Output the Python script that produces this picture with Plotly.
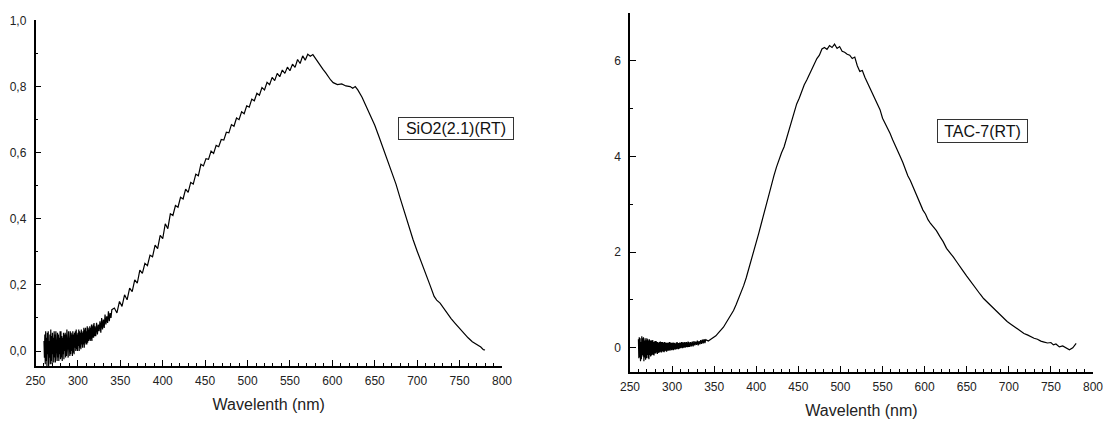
import plotly.graph_objects as go

# ---------------- data: SiO2(2.1)(RT) ----------------
sio2_wl_dense = [260 + 0.5 * i for i in range(121)]          # 260.0 .. 320.0
sio2_int_dense = [
    0.03, -0.02, 0.05, -0.04, 0.06, -0.03, 0.04, -0.045, 0.055, -0.01,
    0.06, -0.045, 0.03, -0.02, 0.05, -0.04, 0.065, -0.03, 0.045, -0.04,
    0.055, -0.01, 0.04, -0.035, 0.06, -0.02, 0.05, -0.035, 0.06, 0.0,
    0.045, -0.03, 0.055, -0.02, 0.05, -0.03, 0.04, -0.01, 0.06, -0.025,
    0.06, -0.02, 0.045, -0.03, 0.04, -0.01, 0.055, -0.025, 0.05, 0.0,
    0.055, -0.02, 0.05, -0.015, 0.065, 0.0, 0.04, -0.02, 0.06, 0.005,
    0.045, -0.015, 0.06, -0.01, 0.055, 0.0, 0.05, -0.015, 0.06, -0.005,
    0.05, -0.01, 0.055, 0.01, 0.06, 0.0, 0.065, 0.005, 0.05, 0.0,
    0.055, 0.015, 0.065, 0.0, 0.06, 0.01, 0.055, 0.005, 0.065, 0.02,
    0.055, 0.01, 0.06, 0.02, 0.07, 0.01, 0.065, 0.025, 0.07, 0.02,
    0.06, 0.02, 0.075, 0.025, 0.07, 0.03, 0.065, 0.035, 0.075, 0.03,
    0.07, 0.035, 0.08, 0.03, 0.075, 0.04, 0.08, 0.04, 0.085, 0.045,
    0.075,
]
sio2_wl_noisy = list(range(321, 341))
sio2_int_noisy = [
    0.045, 0.085, 0.05, 0.08, 0.06, 0.09, 0.055, 0.1, 0.065, 0.095,
    0.07, 0.11, 0.08, 0.105, 0.085, 0.12, 0.09, 0.115, 0.1, 0.125,
]
sio2_wl_mid = list(range(343, 599, 3))
sio2_int_mid = [
    0.13, 0.115, 0.15, 0.135, 0.17, 0.155, 0.19, 0.18, 0.215, 0.205,
    0.245, 0.235, 0.265, 0.258, 0.29, 0.285, 0.32, 0.31, 0.35, 0.34,
    0.385, 0.37, 0.415, 0.41, 0.44, 0.435, 0.465, 0.46, 0.49, 0.48,
    0.51, 0.505, 0.535, 0.53, 0.565, 0.56, 0.582, 0.58, 0.605, 0.598,
    0.622, 0.618, 0.64, 0.638, 0.662, 0.66, 0.685, 0.68, 0.705, 0.70,
    0.724, 0.718, 0.742, 0.738, 0.762, 0.757, 0.78, 0.774, 0.797, 0.79,
    0.813, 0.806, 0.828, 0.818, 0.84, 0.83, 0.85, 0.84, 0.859, 0.848,
    0.868, 0.858, 0.882, 0.87, 0.893, 0.88, 0.898, 0.892, 0.897, 0.885,
    0.872, 0.86, 0.852, 0.842, 0.83, 0.82,
]
sio2_wl_tail = [601, 606, 611, 616, 621, 624, 627, 630, 635, 640, 645, 650,
                655, 660, 665, 670, 675, 680, 685, 690, 695, 700, 705, 710,
                715, 720, 723, 727, 731, 735, 740, 745, 750, 755, 760, 765,
                770, 775, 778, 780]
sio2_int_tail = [0.812, 0.806, 0.808, 0.802, 0.80, 0.795, 0.80, 0.79, 0.768,
                 0.74, 0.714, 0.683, 0.648, 0.613, 0.578, 0.541, 0.505, 0.462,
                 0.418, 0.375, 0.338, 0.302, 0.27, 0.235, 0.20, 0.165, 0.154,
                 0.145, 0.13, 0.115, 0.098, 0.083, 0.068, 0.055, 0.04, 0.028,
                 0.02, 0.012, 0.004, 0.003]

# ---------------- data: TAC-7(RT) ----------------
tac_wl_dense = [260 + 0.5 * i for i in range(121)]           # 260.0 .. 320.0
tac_int_dense = [
    0.18, -0.22, 0.22, -0.2, 0.2, -0.28, 0.12, -0.24, 0.24, -0.15,
    0.2, -0.18, 0.22, -0.28, 0.15, -0.2, 0.2, -0.25, 0.16, -0.22,
    0.2, -0.15, 0.18, -0.22, 0.15, -0.24, 0.18, -0.15, 0.14, -0.18,
    0.16, -0.16, 0.14, -0.14, 0.16, -0.15, 0.12, -0.16, 0.13, -0.12,
    0.14, -0.12, 0.14, -0.1, 0.12, -0.13, 0.12, -0.11, 0.1, -0.1,
    0.12, -0.1, 0.13, -0.08, 0.12, -0.1, 0.12, -0.07, 0.12, -0.08,
    0.1, -0.09, 0.12, -0.07, 0.11, -0.06, 0.1, -0.08, 0.11, -0.06,
    0.1, -0.06, 0.11, -0.05, 0.12, -0.06, 0.11, -0.04, 0.1, -0.05,
    0.11, -0.04, 0.1, -0.05, 0.11, -0.03, 0.1, -0.04, 0.09, -0.03,
    0.11, -0.03, 0.12, -0.02, 0.1, -0.03, 0.1, -0.02, 0.11, -0.01,
    0.1, -0.01, 0.12, 0.0, 0.11, -0.01, 0.12, 0.0, 0.1, 0.01,
    0.12, 0.0, 0.11, 0.01, 0.12, 0.02, 0.11, 0.01, 0.13, 0.02,
    0.12,
]
tac_wl_noisy = list(range(321, 341))
tac_int_noisy = [
    0.02, 0.12, 0.03, 0.13, 0.03, 0.14, 0.05, 0.13, 0.06, 0.15,
    0.05, 0.14, 0.07, 0.16, 0.08, 0.17, 0.09, 0.18, 0.1, 0.17,
]
tac_wl_mid = list(range(343, 611, 3))
tac_int_mid = [
    0.14, 0.18, 0.21, 0.25, 0.31, 0.36, 0.43, 0.52, 0.60, 0.68,
    0.78, 0.90, 1.03, 1.15, 1.30, 1.46, 1.64, 1.82, 2.02, 2.20,
    2.40, 2.60, 2.78, 3.00, 3.20, 3.42, 3.60, 3.78, 3.95, 4.08,
    4.20, 4.38, 4.56, 4.76, 4.93, 5.10, 5.22, 5.38, 5.50, 5.60,
    5.72, 5.81, 5.95, 6.05, 6.12, 6.25, 6.28, 6.24, 6.32, 6.28,
    6.35, 6.26, 6.30, 6.20, 6.18, 6.14, 6.12, 6.05, 6.08, 5.90,
    5.78, 5.80, 5.66, 5.55, 5.45, 5.33, 5.20, 5.10, 4.98, 4.80,
    4.70, 4.60, 4.48, 4.35, 4.22, 4.10, 4.00, 3.88, 3.72, 3.60,
    3.50, 3.38, 3.25, 3.12, 3.00, 2.88, 2.80, 2.68, 2.60, 2.53,
]
tac_wl_tail = [614, 618, 622, 626, 630, 634, 638, 642, 646, 650, 654, 658,
               662, 666, 670, 674, 678, 682, 686, 690, 694, 698, 702, 706,
               710, 714, 718, 722, 726, 730, 734, 738, 742, 746, 750, 753,
               756, 760, 764, 768, 772, 776, 780]
tac_int_tail = [2.45, 2.33, 2.22, 2.08, 2.00, 1.90, 1.80, 1.69, 1.60, 1.50,
                1.40, 1.30, 1.21, 1.12, 1.03, 0.96, 0.88, 0.82, 0.74, 0.67,
                0.61, 0.55, 0.50, 0.45, 0.40, 0.35, 0.30, 0.27, 0.23, 0.20,
                0.18, 0.14, 0.12, 0.10, 0.11, 0.06, 0.08, 0.02, 0.04, 0.0,
                -0.04, 0.0, 0.09]

x_tick_vals = [250, 300, 350, 400, 450, 500, 550, 600, 650, 700, 750, 800]
left_y_vals = [0.0, 0.2, 0.4, 0.6, 0.8, 1.0]
left_y_text = ["0,0", "0,2", "0,4", "0,6", "0,8", "1,0"]
right_y_vals = [0, 2, 4, 6]
x_title = "Wavelenth (nm)"
label_left = "SiO2(2.1)(RT)"
label_right = "TAC-7(RT)"

# ---------------- figure ----------------
W, H = 1105, 422
FONT = "Liberation Sans, Arial, sans-serif"

sio2_x = sio2_wl_dense + sio2_wl_noisy + sio2_wl_mid + sio2_wl_tail
sio2_y = sio2_int_dense + sio2_int_noisy + sio2_int_mid + sio2_int_tail
tac_x = tac_wl_dense + tac_wl_noisy + tac_wl_mid + tac_wl_tail
tac_y = tac_int_dense + tac_int_noisy + tac_int_mid + tac_int_tail

fig = go.Figure()
fig.add_trace(go.Scatter(x=sio2_x, y=sio2_y, mode="lines",
                         line=dict(color="black", width=1.2),
                         xaxis="x", yaxis="y", showlegend=False))
fig.add_trace(go.Scatter(x=tac_x, y=tac_y, mode="lines",
                         line=dict(color="black", width=1.2),
                         xaxis="x2", yaxis="y2", showlegend=False))


def px_x(p):
    return p / W


def px_y(p):
    return (H - p) / H


common_x = dict(
    range=[250, 800], tickmode="array", tickvals=x_tick_vals,
    ticks="inside", ticklen=6, tickwidth=1, tickcolor="black",
    showline=True, linecolor="black", linewidth=1.5,
    showgrid=False, zeroline=False, automargin=False,
    tickfont=dict(family=FONT, size=12, color="#222"),
    minor=dict(ticks="inside", ticklen=3, dtick=10, tick0=250,
               tickcolor="black", showgrid=False),
    title=dict(text=x_title, font=dict(family=FONT, size=16, color="#222"),
               standoff=12),
    ticklabelstandoff=3,
)
common_y = dict(
    ticks="inside", ticklen=6, tickwidth=1, tickcolor="black",
    showline=True, linecolor="black", linewidth=1.5,
    showgrid=False, zeroline=False, automargin=False,
    tickfont=dict(family=FONT, size=12, color="#222"),
    ticklabelstandoff=5,
)

fig.update_layout(
    width=W, height=H,
    margin=dict(l=0, r=0, t=0, b=0),
    paper_bgcolor="white", plot_bgcolor="white",
    xaxis=dict(common_x, domain=[px_x(35.5), px_x(502)], anchor="y"),
    yaxis=dict(common_y, domain=[px_y(366), px_y(20)], anchor="x",
               range=[-0.0454, 1.0015], tickmode="array",
               tickvals=left_y_vals, ticktext=left_y_text,
               minor=dict(ticks="inside", ticklen=3, dtick=0.1, tick0=0,
                          tickcolor="black", showgrid=False)),
    xaxis2=dict(common_x, domain=[px_x(630), px_x(1093)], anchor="y2"),
    yaxis2=dict(common_y, domain=[px_y(371.7), px_y(13.1)], anchor="x2",
                range=[-0.5, 7.0], tickmode="array", tickvals=right_y_vals,
                minor=dict(ticks="inside", ticklen=3, dtick=1, tick0=0,
                           tickcolor="black", showgrid=False)),
    annotations=[
        dict(text=label_left, xref="paper", yref="paper",
             x=px_x(456), y=px_y(128), xanchor="center", yanchor="middle",
             showarrow=False,
             font=dict(family=FONT, size=16, color="#111"),
             bordercolor="#333", borderwidth=1, borderpad=1,
             width=112, height=19, bgcolor="white"),
        dict(text=label_right, xref="paper", yref="paper",
             x=px_x(982.5), y=px_y(131), xanchor="center", yanchor="middle",
             showarrow=False,
             font=dict(family=FONT, size=16, color="#111"),
             bordercolor="#333", borderwidth=1, borderpad=1,
             width=87, height=20, bgcolor="white"),
    ],
)

fig.write_html("out.html")
